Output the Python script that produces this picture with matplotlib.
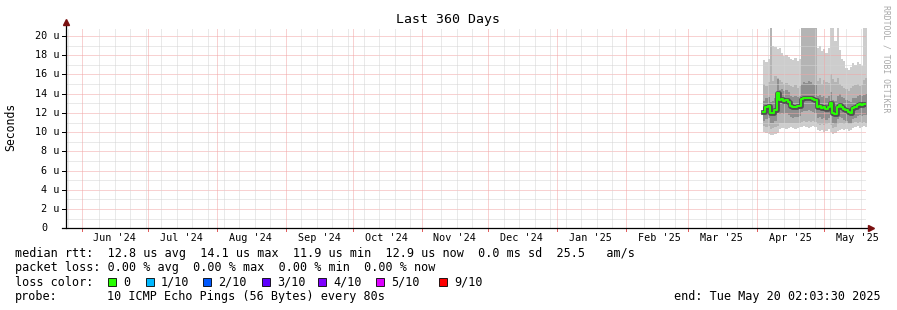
import matplotlib
matplotlib.use("Agg")
import matplotlib.pyplot as plt
import matplotlib.dates as mdates
import matplotlib.transforms as mtransforms
import matplotlib.patheffects as pe
from matplotlib.patches import Rectangle
import pandas as pd

W, H = 897, 310
MONO = "DejaVu Sans Mono"

# one value per day, starting in the evening of 3 Apr 2025 (microseconds)
median = [12.1, 12.6, 12.7, 12.0, 12.0, 12.3, 14.1, 13.3, 13.4, 13.2, 13.3, 13.1,
          12.7, 12.6, 12.6, 12.7, 12.7, 13.4, 13.5, 13.5, 13.6, 13.5, 13.4, 13.3,
          12.6, 12.7, 12.5, 12.6, 12.4, 12.6, 13.0, 12.0, 11.9, 12.6, 12.8, 12.6,
          12.4, 12.3, 12.1, 12.0, 12.5, 12.6, 12.8, 12.9, 12.8, 12.9, 12.9]

# outer smoke (min / max ping)
hi1 = [17.5, 17.3, 17.6, 20.9, 19.0, 18.9, 18.6, 18.8, 18.2, 17.9, 18.0, 17.8,
       17.6, 17.5, 17.7, 17.4, 17.6, 20.9, 20.9, 20.9, 20.9, 20.9, 20.9, 20.9,
       18.7, 19.0, 18.4, 18.6, 18.2, 18.8, 20.9, 20.9, 19.5, 20.9, 18.5, 17.6,
       17.4, 16.7, 16.5, 16.8, 17.2, 17.0, 17.3, 17.1, 16.9, 20.9, 20.9]
lo1 = [10.0, 9.9, 9.8, 9.7, 9.7, 9.8, 9.9, 10.3, 10.4, 10.4, 10.3, 10.4,
       10.5, 10.4, 10.3, 10.4, 10.5, 10.5, 10.6, 10.5, 10.4, 10.5, 10.6, 10.5,
       10.2, 10.1, 10.2, 10.0, 10.1, 10.3, 10.0, 9.8, 9.9, 10.1, 10.2, 10.3,
       10.2, 10.3, 10.1, 10.2, 10.4, 10.5, 10.6, 10.4, 10.5, 10.6, 10.5]

# middle smoke
hi2 = [15.0, 14.8, 15.2, 20.9, 15.3, 15.8, 15.6, 15.4, 15.2, 15.0, 15.1, 14.9,
       14.8, 14.7, 14.9, 14.6, 14.8, 20.9, 20.9, 20.9, 20.9, 20.9, 20.9, 20.9,
       15.3, 15.6, 15.0, 15.4, 15.2, 15.1, 16.0, 15.5, 15.2, 15.6, 15.0, 14.8,
       14.6, 14.5, 14.3, 14.6, 14.8, 14.9, 15.0, 14.8, 14.9, 15.4, 15.6]
lo2 = [10.6, 10.5, 10.6, 10.3, 10.4, 10.5, 10.6, 11.0, 11.0, 10.9, 11.0, 10.9,
       11.0, 10.9, 11.0, 10.9, 11.0, 11.1, 11.2, 11.1, 11.2, 11.1, 11.2, 11.1,
       10.8, 10.7, 10.8, 10.7, 10.8, 10.9, 10.7, 10.4, 10.5, 10.8, 10.9, 10.9,
       10.8, 10.9, 10.8, 10.8, 11.0, 11.1, 11.0, 11.1, 11.0, 11.1, 11.0]

# inner smoke
hi3 = [13.2, 13.6, 13.7, 13.1, 13.2, 13.5, 15.5, 14.4, 14.5, 14.3, 14.4, 14.2,
       13.8, 13.7, 13.8, 13.7, 13.8, 15.0, 15.2, 15.1, 15.3, 15.2, 15.0, 14.9,
       13.8, 13.9, 13.7, 13.8, 13.6, 13.8, 14.2, 13.3, 13.2, 13.8, 14.0, 13.7,
       13.5, 13.3, 13.2, 13.1, 13.5, 13.6, 13.8, 13.9, 13.8, 13.9, 14.0]
lo3 = [11.2, 11.4, 11.5, 10.9, 10.9, 11.2, 12.0, 11.9, 12.0, 11.9, 12.0, 11.8,
       11.6, 11.5, 11.6, 11.6, 11.7, 12.1, 12.2, 12.2, 12.3, 12.2, 12.1, 12.0,
       11.5, 11.6, 11.4, 11.5, 11.3, 11.5, 11.8, 10.9, 10.8, 11.4, 11.6, 11.5,
       11.3, 11.2, 11.0, 10.9, 11.4, 11.5, 11.7, 11.8, 11.7, 11.8, 11.8]

loss_labels = ["0", "1/10", "2/10", "3/10", "4/10", "5/10", "9/10"]
loss_colors = ["#26ff00", "#00b8ff", "#0059ff", "#5e00ff", "#7e00ff", "#dd00ff", "#ff0000"]
loss_box_x = [108, 146, 203, 262, 318, 376, 439]

yticks = list(range(0, 21, 2))

end = pd.Timestamp("2025-05-20 02:03:30")
start = end - pd.Timedelta(days=360)
first = pd.Timestamp("2025-04-03 20:00")

days = pd.date_range(first, periods=len(median) + 1, freq="D")
x = mdates.date2num(days)


def ext(a):
    return list(a) + [a[-1]]


fig = plt.figure(figsize=(W / 100, H / 100), dpi=100)
ax = fig.add_axes([66 / W, 1 - 228.3 / H, 800 / W, 200 / H])
ax.set_xlim(mdates.date2num(start), mdates.date2num(end))
ax.set_ylim(0, 200 / 9.615)
for s in ax.spines.values():
    s.set_visible(False)
ax.set_xticks([])
ax.set_yticks([])

# smoke
ax.fill_between(x, ext(lo1), ext(hi1), step="post", color="#cdcdcd", lw=0, zorder=1)
ax.fill_between(x, ext(lo2), ext(hi2), step="post", color="#b4b4b4", lw=0, zorder=1)
ax.fill_between(x, ext(lo3), ext(hi3), step="post", color="#8e8e8e", lw=0, zorder=1)

# grid, dotted
dot = (0, (1, 1))
grid_kw = dict(lw=0.72, ls=dot, zorder=2)
month_starts = pd.date_range(start, end, freq="MS")
for v in range(1, 21):
    ax.axhline(v, color="#d4d4d4" if v % 2 else "#f2a4a4", **grid_kw)
for d in pd.date_range(start, end, freq="W-SUN").normalize():
    if min(abs((d - m).days) for m in month_starts) > 1:
        ax.axvline(mdates.date2num(d), color="#d4d4d4", **grid_kw)
for d in month_starts:
    ax.axvline(mdates.date2num(d), color="#f2a4a4", **grid_kw)
    ax.axvline(mdates.date2num(d), ymin=-0.012, ymax=0, color="#e06060",
               lw=0.72, clip_on=False, zorder=2)

# median line
ax.step(x, ext(median), where="post", color="#26ff00", lw=1.4, zorder=4,
        path_effects=[pe.Stroke(linewidth=3.4, foreground="#505050"), pe.Normal()])

# axes with arrows
ax.plot([0, 0], [0, 1.03], transform=ax.transAxes, color="black", lw=0.9,
        clip_on=False, zorder=5)
ax.plot([0], [1.03], transform=ax.transAxes, marker="^", color="#7a1010",
        ms=4, clip_on=False, zorder=5)
ax.plot([-4 / 800, 1.006], [0, 0], transform=ax.transAxes, color="black", lw=0.9,
        clip_on=False, zorder=5)
ax.plot([1.006], [0], transform=ax.transAxes, marker=">", color="#7a1010",
        ms=4, clip_on=False, zorder=5)

# y tick labels
for v in yticks:
    ax.plot([-4 / 800, 0], [v, v], transform=ax.get_yaxis_transform(),
            color="black", lw=0.72, clip_on=False)
    if v == 0:
        off = mtransforms.offset_copy(ax.get_yaxis_transform(), fig=fig, x=-19, y=0, units="dots")
        ax.text(0, v, "0", transform=off, ha="right", va="center",
                family=MONO, fontsize=7.3)
    else:
        off = mtransforms.offset_copy(ax.get_yaxis_transform(), fig=fig, x=-6.5, y=0, units="dots")
        ax.text(0, v, "%d u" % v, transform=off, ha="right", va="center",
                family=MONO, fontsize=7.3)

# x tick labels, centred in each month
for d in month_starts:
    mid = d + pd.Timedelta(days=15)
    if mid < end:
        ax.text(mdates.date2num(mid), -10 / 200, mid.strftime("%b '%y"),
                transform=ax.get_xaxis_transform(), ha="center", va="center",
                family=MONO, fontsize=7.3)

fig.text(448 / W, 1 - 19 / H, "Last 360 Days", ha="center", va="center",
         family=MONO, fontsize=9.5)
fig.text(11 / W, 1 - 127 / H, "Seconds", rotation=90, ha="center", va="center",
         family=MONO, fontsize=8.3)
fig.text(886 / W, 1 - 59 / H, "RRDTOOL / TOBI OETIKER", rotation=270,
         ha="center", va="center", family=MONO, fontsize=5.9, color="#a8a8a8")

fs = 8.5
lines = [
    (254, "median rtt:  12.8 us avg  14.1 us max  11.9 us min  12.9 us now  0.0 ms sd  25.5   am/s"),
    (268, "packet loss: 0.00 % avg  0.00 % max  0.00 % min  0.00 % now"),
]
for yy, t in lines:
    fig.text(15 / W, 1 - yy / H, t, ha="left", va="center", family=MONO, fontsize=fs)

fig.text(15 / W, 1 - 282 / H, "loss color:", ha="left", va="center", family=MONO, fontsize=fs)
for bx, lab, col in zip(loss_box_x, loss_labels, loss_colors):
    fig.add_artist(Rectangle((bx / W, 1 - 286 / H), 7.5 / W, 8 / H,
                             transform=fig.transFigure, facecolor=col,
                             edgecolor="black", lw=0.6))
    fig.text((bx + 15) / W, 1 - 282 / H, lab, ha="left", va="center",
             family=MONO, fontsize=fs)

fig.text(15 / W, 1 - 296.5 / H, "probe:", ha="left", va="center", family=MONO, fontsize=fs)
fig.text(107 / W, 1 - 296.5 / H, "10 ICMP Echo Pings (56 Bytes) every 80s",
         ha="left", va="center", family=MONO, fontsize=fs)
fig.text(881 / W, 1 - 296.5 / H, "end: Tue May 20 02:03:30 2025",
         ha="right", va="center", family=MONO, fontsize=fs)

fig.savefig("out.png", dpi=100, facecolor="white")
